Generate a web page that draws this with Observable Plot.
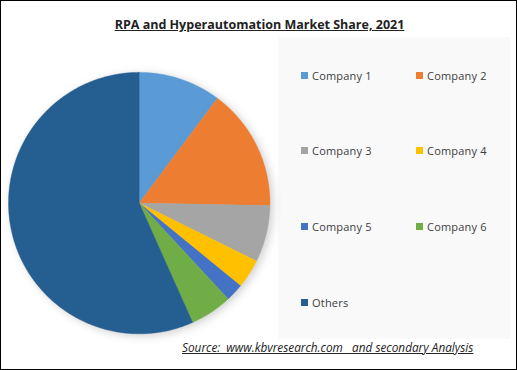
<!DOCTYPE html>
<html><head><meta charset="utf-8">
<script src="https://cdn.jsdelivr.net/npm/d3@7"></script>
<script src="https://cdn.jsdelivr.net/npm/@observablehq/plot@0.6"></script>
<style>
html,body{margin:0;padding:0;background:#fff;}
#wrap{position:relative;width:517px;height:370px;box-sizing:border-box;border:1px solid #000;overflow:hidden;font-family:"Open Sans",sans-serif;}
#panel{position:absolute;left:277px;top:36px;width:232px;height:302px;background:#f9f9f9;}
#title{position:absolute;left:0;width:517px;top:15px;text-align:center;font-weight:bold;font-size:12.5px;color:#222;}
#title span{text-decoration:underline;}
#chart{position:absolute;left:-1px;top:-1px;}
.leg{position:absolute;font-size:11px;color:#404040;display:flex;align-items:center;white-space:nowrap;letter-spacing:0.2px;}
.leg i{display:inline-block;width:7px;height:7px;margin-right:4px;}
#source{position:absolute;left:181px;top:338px;font-size:11.8px;font-style:italic;text-decoration:underline;color:#222;white-space:pre;}
</style></head>
<body>
<div id="wrap">
  <div id="panel"></div>
  <div id="title"><span>RPA and Hyperautomation Market Share, 2021</span></div>
  <div id="chart"></div>
  <div id="legend"></div>
  <div id="source">Source:  www.kbvresearch.com   and secondary Analysis</div>
</div>
<script>
const categories = ["Company 1","Company 2","Company 3","Company 4","Company 5","Company 6","Others"];
const shares = [10.2, 15.1, 7.0, 3.6, 2.2, 5.2, 56.7];
const colors = ["#5B9BD5","#ED7D31","#A5A5A5","#FFC000","#4472C4","#70AD47","#255E91"];

const pie = d3.pie().sort(null).value(d => d.value);
const arcs = pie(categories.map((name, i) => ({name, value: shares[i]})));
const pts = [];
for (const a of arcs) {
  pts.push({name: a.data.name, x: 0, y: 0});
  const n = Math.max(2, Math.ceil((a.endAngle - a.startAngle) / (Math.PI / 360)));
  for (let k = 0; k <= n; k++) {
    const t = a.startAngle + (a.endAngle - a.startAngle) * k / n;
    pts.push({name: a.data.name, x: Math.sin(t), y: Math.cos(t)});
  }
  pts.push({name: a.data.name, x: 0, y: 0});
}

const plot = Plot.plot({
  width: 517, height: 370,
  marginLeft: 8, marginRight: 247, marginTop: 72, marginBottom: 36,
  x: {domain: [-1, 1], axis: null},
  y: {domain: [-1, 1], axis: null},
  color: {domain: categories, range: colors},
  style: {background: "transparent", overflow: "visible"},
  marks: [
    Plot.line(pts, {x: "x", y: "y", z: "name", fill: "name", stroke: "name", strokeWidth: 0.4, curve: "linear"})
  ]
});
d3.select(plot).selectAll("g[aria-label=line]").style("filter", "drop-shadow(3px 2px 4px rgba(0,0,0,0.18))");
document.getElementById("chart").appendChild(plot);

const leg = document.getElementById("legend");
const colX = [300, 415];
const rowY = [75, 150, 226, 302];
categories.forEach((c, i) => {
  const d = document.createElement("div");
  d.className = "leg";
  d.style.left = colX[i % 2] + "px";
  d.style.top = (rowY[Math.floor(i / 2)] - 9) + "px";
  d.style.height = "16px";
  d.innerHTML = `<i style="background:${colors[i]}"></i>${c}`;
  leg.appendChild(d);
});
</script>
</body></html>
